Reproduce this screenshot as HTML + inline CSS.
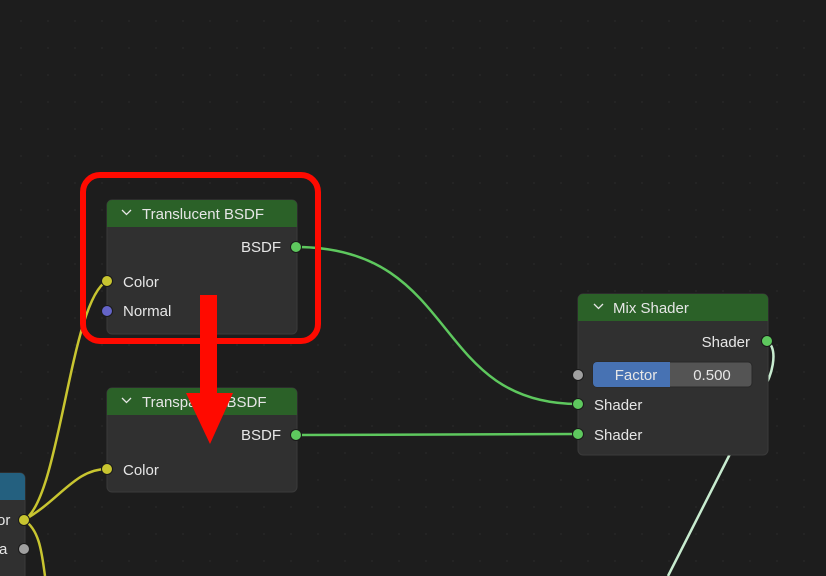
<!DOCTYPE html>
<html><head><meta charset="utf-8"><style>
html,body{margin:0;padding:0;background:#1d1d1d;}
svg{display:block;}
text{font-family:"Liberation Sans","DejaVu Sans",sans-serif;font-size:15px;fill:#e6e6e6;}
</style></head><body>
<svg width="826" height="576" viewBox="0 0 826 576" xmlns="http://www.w3.org/2000/svg">
<defs>
<pattern id="dots" x="0" y="0" width="27" height="27" patternUnits="userSpaceOnUse">
<circle cx="21" cy="21" r="1" fill="#262626"/>
</pattern>
</defs>
<rect width="826" height="576" fill="#1d1d1d"/>
<rect width="826" height="576" fill="url(#dots)"/>

<path d="M24,520 C60,500 70,300 107,281" stroke="#c8c530" stroke-width="2.5" fill="none"/>
<path d="M24,520 C60,500 75,469 107,469" stroke="#c8c530" stroke-width="2.5" fill="none"/>
<path d="M24,520 C40,530 42,555 45,576" stroke="#c8c530" stroke-width="2.5" fill="none"/>
<path d="M296,247 C460,247 430,404 578,404" stroke="#5ec85e" stroke-width="2.5" fill="none"/>
<path d="M296,435 L578,434" stroke="#5ec85e" stroke-width="2.5" fill="none"/>
<path d="M767,341 C780,350 770,380 765,385 L668,576" stroke="#c8ecd0" stroke-width="2.5" fill="none"/>

<rect x="-20" y="473" width="45" height="120" rx="5" fill="#303030" stroke="#3a3a3a"/>
<path d="M-20,473 H20 a5,5 0 0 1 5,5 V500 H-20Z" fill="#24607f"/>
<text x="-3" y="525">or</text>
<text x="-1" y="554">a</text>
<circle cx="24" cy="520" r="5.5" fill="#c8c530" stroke="#1a1a1a"/>
<circle cx="24" cy="549" r="5.5" fill="#a0a0a0" stroke="#1a1a1a"/>

<rect x="107" y="200" width="190" height="134" rx="5" fill="#303030" stroke="#3a3a3a"/>
<path d="M107,227 V205 a5,5 0 0 1 5,-5 H292 a5,5 0 0 1 5,5 V227Z" fill="#2b6128"/>
<path d="M122,210 l4.5,4.5 l4.5,-4.5" stroke="#e6e6e6" stroke-width="1.3" fill="none"/>
<text x="142" y="219">Translucent BSDF</text>
<text x="281" y="252" text-anchor="end">BSDF</text>
<text x="123" y="287">Color</text>
<text x="123" y="316">Normal</text>
<circle cx="296" cy="247" r="5.5" fill="#5ec85e" stroke="#1a1a1a"/>
<circle cx="107" cy="281" r="5.5" fill="#c8c530" stroke="#1a1a1a"/>
<circle cx="107" cy="311" r="5.5" fill="#6464c8" stroke="#1a1a1a"/>

<rect x="107" y="388" width="190" height="104" rx="5" fill="#303030" stroke="#3a3a3a"/>
<path d="M107,415 V393 a5,5 0 0 1 5,-5 H292 a5,5 0 0 1 5,5 V415Z" fill="#2b6128"/>
<path d="M122,398 l4.5,4.5 l4.5,-4.5" stroke="#e6e6e6" stroke-width="1.3" fill="none"/>
<text x="142" y="407">Transparent BSDF</text>
<text x="281" y="440" text-anchor="end">BSDF</text>
<text x="123" y="475">Color</text>
<circle cx="296" cy="435" r="5.5" fill="#5ec85e" stroke="#1a1a1a"/>
<circle cx="107" cy="469" r="5.5" fill="#c8c530" stroke="#1a1a1a"/>

<rect x="578" y="294" width="190" height="161" rx="5" fill="#303030" stroke="#3a3a3a"/>
<path d="M578,321 V299 a5,5 0 0 1 5,-5 H763 a5,5 0 0 1 5,5 V321Z" fill="#2b6128"/>
<path d="M594,304 l4.5,4.5 l4.5,-4.5" stroke="#e6e6e6" stroke-width="1.3" fill="none"/>
<text x="613" y="313">Mix Shader</text>
<text x="750" y="347" text-anchor="end">Shader</text>
<rect x="593" y="362" width="159" height="25" rx="4" fill="#545454" stroke="#282828"/>
<path d="M597,362 H670 V387 H597 a4,4 0 0 1 -4,-4 V366 a4,4 0 0 1 4,-4Z" fill="#4772b3"/>
<text x="636" y="380" text-anchor="middle">Factor</text>
<text x="712" y="380" text-anchor="middle">0.500</text>
<text x="594" y="410">Shader</text>
<text x="594" y="440">Shader</text>
<circle cx="767" cy="341" r="5.5" fill="#5ec85e" stroke="#1a1a1a"/>
<circle cx="578" cy="375" r="5.5" fill="#a0a0a0" stroke="#1a1a1a"/>
<circle cx="578" cy="404" r="5.5" fill="#5ec85e" stroke="#1a1a1a"/>
<circle cx="578" cy="434" r="5.5" fill="#5ec85e" stroke="#1a1a1a"/>

<rect x="83" y="175" width="235" height="166" rx="17" fill="none" stroke="#ff0a00" stroke-width="6"/>
<rect x="200" y="295" width="17" height="100" fill="#ff0a00"/>
<polygon points="186,393 233,393 210,444" fill="#ff0a00"/>
</svg>
</body></html>
